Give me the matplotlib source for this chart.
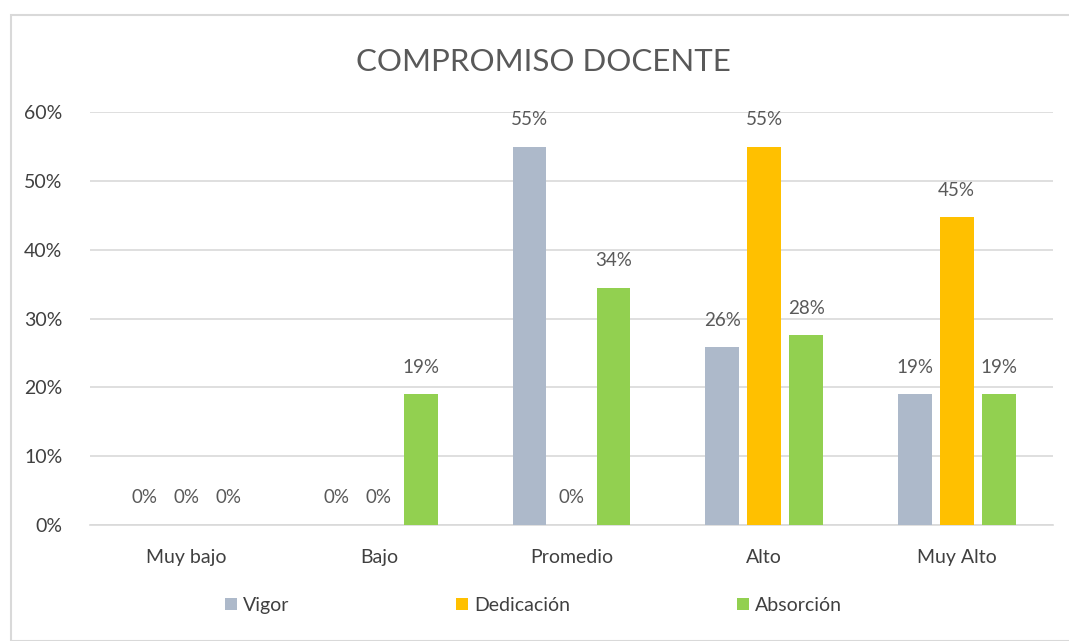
import numpy as np
import matplotlib.pyplot as plt
from matplotlib.patches import Rectangle

plt.rcParams['font.family'] = ['Lato', 'DejaVu Sans']

# data
categorias = ["Muy bajo", "Bajo", "Promedio", "Alto", "Muy Alto"]
vigor = [0.0, 0.0, 0.55, 0.258, 0.19]
dedicacion = [0.0, 0.0, 0.0, 0.55, 0.447]
absorcion = [0.0, 0.19, 0.345, 0.276, 0.19]
series = ["Vigor", "Dedicación", "Absorción"]
colores = ["#ADB9CA", "#FFC000", "#92D050"]

gris = "#595959"

fig = plt.figure(figsize=(10.69, 6.41), dpi=100)
ax = fig.add_axes([0.0842, 0.181, 0.9008, 0.644])

x = np.arange(len(categorias))
ancho = 0.176
paso = 0.218
for i, (vals, nombre, col) in enumerate(zip([vigor, dedicacion, absorcion], series, colores)):
	pos = x + (i - 1) * paso
	barras = ax.bar(pos, vals, ancho, color=col, label=nombre, zorder=3)
	for p, v in zip(pos, vals):
		ax.text(p, v + 0.027, "{:.0f}%".format(v * 100), ha="center", va="bottom",
				fontsize=13.5, color=gris)

ax.set_xlim(-0.5, len(categorias) - 0.5)
ax.set_ylim(0, 0.6)
ax.set_yticks(np.arange(0, 0.61, 0.1))
ax.set_yticklabels(["{:.0f}%".format(t * 100) for t in np.arange(0, 0.61, 0.1)])
ax.set_xticks(x)
ax.set_xticklabels(categorias)
ax.tick_params(axis="both", length=0, labelsize=14, colors="#404040")
ax.tick_params(axis="y", pad=20)
ax.tick_params(axis="x", pad=17)
ax.grid(axis="y", color="#D9D9D9", linewidth=1.2, zorder=0)
for s in ["top", "right", "left"]:
	ax.spines[s].set_visible(False)
ax.spines["bottom"].set_color("#D9D9D9")
ax.spines["bottom"].set_linewidth(1.2)

fig.text(0.508, 0.904, "COMPROMISO DOCENTE", ha="center", va="center", fontsize=22.5, color=gris)

fig.legend(loc="center", bbox_to_anchor=(0.499, 0.056), ncol=3, frameon=False,
		   fontsize=14, handlelength=0.6, handleheight=0.6, handletextpad=0.3,
		   columnspacing=8.6, labelcolor="#404040")

# outer chart frame
fig.patches.append(Rectangle((11 / 1069, 0.0), 1.2, 1 - 15 / 641, transform=fig.transFigure,
							 fill=False, edgecolor="#D9D9D9", linewidth=1.5))

fig.savefig("out.png", dpi=100)
